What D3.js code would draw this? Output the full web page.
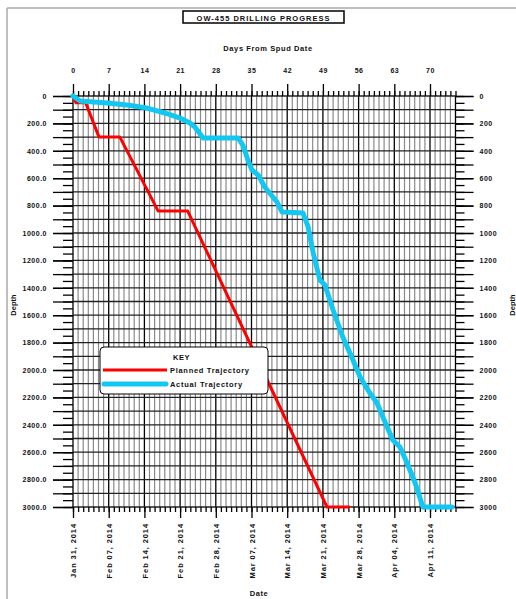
<!DOCTYPE html>
<html><head><meta charset="utf-8">
<script src="https://cdn.jsdelivr.net/npm/d3@7"></script>
<style>
body{margin:0;background:#fff}
svg{display:block}
text{font-family:"Liberation Sans",Arial,sans-serif;font-weight:bold;fill:#111}
</style></head><body>
<svg id="c" width="516" height="599"></svg>
<script>
const title = "OW-455 DRILLING PROGRESS";
const topAxisTitle = "Days From Spud Date";
const depthTitle = "Depth";
const dateTitle = "Date";
const dayTicks = [0,7,14,21,28,35,42,49,56,63,70];
const depthTicks = [0,200,400,600,800,1000,1200,1400,1600,1800,2000,2200,2400,2600,2800,3000];
const dateTicks = ["2014-01-31","2014-02-07","2014-02-14","2014-02-21","2014-02-28","2014-03-07","2014-03-14","2014-03-21","2014-03-28","2014-04-04","2014-04-11"];
const seriesNames = ["Planned Trajectory","Actual Trajectory"];
const plannedDays  = [0, 0.6, 2.5, 5.1, 9.2, 16.7, 22.5, 49.8, 54.3];
const plannedDepth = [0, 50, 50, 300, 300, 840, 840, 3000, 3000];
const actualDays  = [0, 1.4, 6.7, 10.6, 14.5, 18.0, 21.0, 22.9, 23.9, 25.5, 32.4, 33.3, 34.3, 35.1, 36.3, 37.6, 40.0, 41.0, 45.1, 46.1, 47.1, 48.4, 49.4, 51.0, 52.9, 54.3, 56.3, 58.2, 59.6, 61.6, 62.7, 64.1, 65.5, 67.1, 68.6, 74.3];
const actualDepth = [0, 36, 51, 66, 88, 124, 161, 197, 226, 307, 307, 358, 467, 540, 577, 664, 774, 847, 854, 956, 1146, 1343, 1380, 1562, 1759, 1876, 2051, 2168, 2241, 2416, 2511, 2562, 2679, 2825, 3000, 3000];

const svg = d3.select("#c");
const L = 73, R = 455.5, T = 96, B = 507;
const x = d3.scaleLinear().domain([0,75]).range([L,R]);
const y = d3.scaleLinear().domain([0,3000]).range([T,B]);
const parse = d3.utcParse("%Y-%m-%d");
const start = parse(dateTicks[0]);
const xDate = d3.scaleUtc().domain([start, d3.utcDay.offset(start,75)]).range([L,R]);

// page frame
svg.append("line").attr("x1",7).attr("x2",7).attr("y1",8).attr("y2",599).attr("stroke","#aaa").attr("stroke-width",1.5);
svg.append("line").attr("x1",7).attr("x2",516).attr("y1",8).attr("y2",8).attr("stroke","#aaa").attr("stroke-width",1.5);

// title
svg.append("rect").attr("x",183).attr("y",11).attr("width",161).attr("height",12).attr("fill","#fff").attr("stroke","#000").attr("stroke-width",1.5);
svg.append("text").attr("x",263.5).attr("y",20.5).attr("text-anchor","middle").attr("font-size",7.5).attr("letter-spacing",1).text(title);
svg.append("text").attr("x",268).attr("y",51).attr("text-anchor","middle").attr("font-size",7.5).attr("letter-spacing",0.6).text(topAxisTitle);

// grid
const g = svg.append("g");
const dayGrid = x.ticks(75);
g.selectAll(".vg").data(dayGrid).join("line")
  .attr("x1",d=>x(d)).attr("x2",d=>x(d)).attr("y1",T).attr("y2",B)
  .attr("stroke",d=>(d%7===0||d===75)?"#000":"#8a8a8a").attr("stroke-width",d=>(d%7===0||d===75)?1.3:1.2);
g.selectAll(".hg").data(y.ticks(30)).join("line")
  .attr("x1",L).attr("x2",R).attr("y1",d=>y(d)).attr("y2",d=>y(d))
  .attr("stroke","#222").attr("stroke-width",1.3);

function styleAxis(sel){
  sel.select(".domain").remove();
  sel.selectAll(".tick line").attr("stroke","#000").attr("stroke-width",1.3);
  sel.selectAll(".tick text").attr("font-size",7).attr("letter-spacing",0.5).attr("fill","#111");
}
// top axis
svg.append("g").attr("transform",`translate(0,${T})`).call(d3.axisTop(x).tickValues(dayGrid).tickSize(5).tickFormat("")).call(styleAxis);
svg.append("g").attr("transform",`translate(0,${T})`).call(d3.axisTop(x).tickValues(dayTicks).tickSize(12).tickPadding(11).tickFormat(d3.format("d"))).call(styleAxis);
// bottom axis
const dayDates = dayGrid.map(d=>d3.utcDay.offset(start,d));
svg.append("g").attr("transform",`translate(0,${B})`).call(d3.axisBottom(xDate).tickValues(dayDates).tickSize(5).tickFormat("")).call(styleAxis);
const bAx = svg.append("g").attr("transform",`translate(0,${B})`).call(d3.axisBottom(xDate).tickValues(dateTicks.map(parse)).tickSize(11).tickFormat(d3.utcFormat("%b %d, %Y"))).call(styleAxis);
bAx.selectAll(".tick text").attr("transform","rotate(-90)").attr("text-anchor","end").attr("x",-16).attr("y",0).attr("dy","0.35em").attr("letter-spacing",0.9).attr("font-size",7.5);
// left axis
const depth50 = y.ticks(60), depth100 = y.ticks(30);
svg.append("g").attr("transform",`translate(${L},0)`).call(d3.axisLeft(y).tickValues(depth50).tickSize(10).tickFormat("")).call(styleAxis);
svg.append("g").attr("transform",`translate(${L},0)`).call(d3.axisLeft(y).tickValues(depth100).tickSize(20).tickFormat("")).call(styleAxis);
svg.append("g").attr("transform",`translate(${L},0)`).call(d3.axisLeft(y).tickValues(depthTicks).tickSize(20).tickPadding(6).tickFormat(d=>d===0?"0":d3.format(".1f")(d))).call(styleAxis);
// right axis
svg.append("g").attr("transform",`translate(${R},0)`).call(d3.axisRight(y).tickValues(depth50).tickSize(9).tickFormat("")).call(styleAxis);
svg.append("g").attr("transform",`translate(${R},0)`).call(d3.axisRight(y).tickValues(depth100).tickSize(18).tickFormat("")).call(styleAxis);
svg.append("g").attr("transform",`translate(${R},0)`).call(d3.axisRight(y).tickValues(depthTicks).tickSize(18).tickPadding(6).tickFormat(d3.format("d"))).call(styleAxis);

// axis titles
svg.append("text").attr("transform","translate(16,305) rotate(-90)").attr("text-anchor","middle").attr("font-size",7.5).text(depthTitle);
svg.append("text").attr("transform","translate(515,305) rotate(-90)").attr("text-anchor","middle").attr("font-size",7.5).text(depthTitle);
svg.append("text").attr("x",259).attr("y",596).attr("text-anchor","middle").attr("font-size",7.5).attr("letter-spacing",0.6).text(dateTitle);

// series
const line = d3.line().x(d=>x(d[0])).y(d=>y(d[1]));
const planned = plannedDays.map((d,i)=>[d,plannedDepth[i]]);
const actual = actualDays.map((d,i)=>[d,actualDepth[i]]);
svg.append("path").attr("d",line(planned)).attr("fill","none").attr("stroke","#ff0000").attr("stroke-width",3).attr("stroke-linejoin","round");
svg.append("path").attr("d",line(actual)).attr("fill","none").attr("stroke","#12c8f2").attr("stroke-width",5).attr("stroke-linejoin","round").attr("stroke-linecap","round");

// legend
const lg = svg.append("g");
lg.append("rect").attr("x",100).attr("y",347).attr("width",168).attr("height",47).attr("rx",4).attr("fill","#fff").attr("stroke","#000").attr("stroke-width",1);
lg.append("text").attr("x",173).attr("y",360).attr("font-size",7.5).attr("letter-spacing",0.6).text("KEY");
lg.append("line").attr("x1",103).attr("x2",167).attr("y1",370).attr("y2",370).attr("stroke","#ff0000").attr("stroke-width",3);
lg.append("text").attr("x",170).attr("y",373).attr("font-size",7.5).attr("letter-spacing",0.7).text(seriesNames[0]);
lg.append("line").attr("x1",104).attr("x2",166).attr("y1",384).attr("y2",384).attr("stroke","#12c8f2").attr("stroke-width",5).attr("stroke-linecap","round");
lg.append("text").attr("x",170).attr("y",387).attr("font-size",7.5).attr("letter-spacing",0.7).text(seriesNames[1]);
</script></body></html>
